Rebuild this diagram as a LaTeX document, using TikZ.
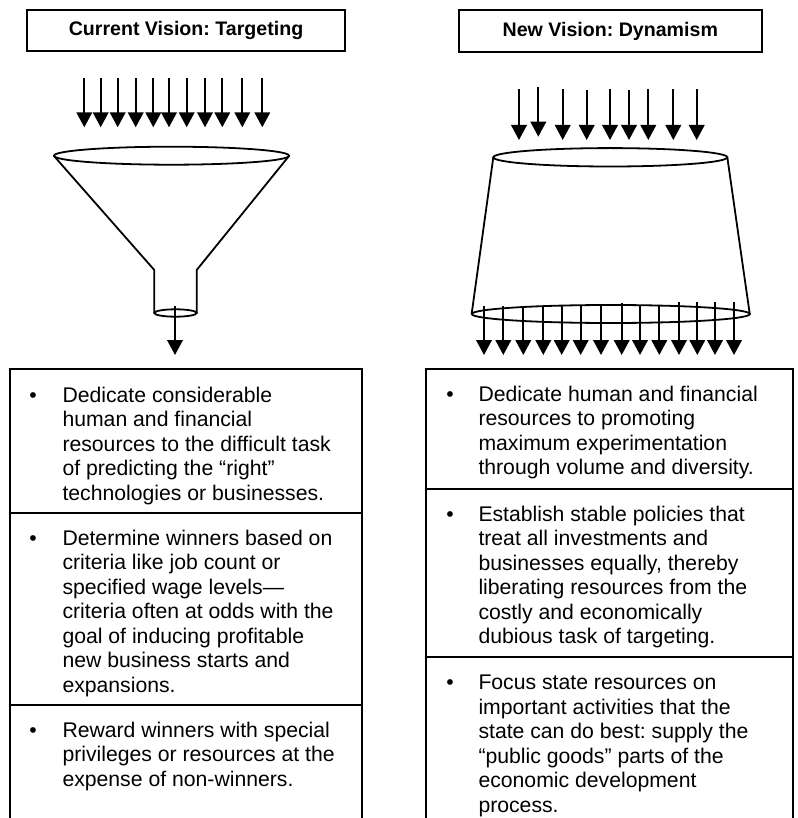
\documentclass[tikz,border=0pt]{standalone}
\usepackage{fontspec}
\setmainfont{Liberation Sans}
\usetikzlibrary{arrows.meta}
\newcommand{\fl}{\rule{0pt}{20pt}}
\frenchspacing
\begin{document}
\begin{tikzpicture}[x=1pt,y=-1pt,
  ln/.style={line width=1.8pt},
  boxline/.style={line width=2pt},
  dnarrow/.style={line width=2.2pt,-{Triangle[width=15.5pt,length=15pt]}},
  headbox/.style={draw,line width=2pt,inner sep=0pt,font=\bfseries\fontsize{19.6}{23}\selectfont},
  btext/.style={anchor=north west,inner sep=0pt,align=left,font=\fontsize{21.2}{24.5}\selectfont},
  bdot/.style={anchor=base,inner sep=0pt,font=\fontsize{21.2}{24.5}\selectfont}]
\useasboundingbox (0,0) rectangle (797,818);

% headers
\node[headbox,minimum width=318pt,minimum height=41pt] (h1) at (186,30.5) {Current Vision: Targeting};
\node[headbox,minimum width=302.7pt,minimum height=42pt] (h2) at (610.3,31) {New Vision: Dynamism};

% left top arrows
\foreach \x in {84.3,100.7,117.7,135.7,153.3,169,186.7,205,222.3,242.3,262.3}
  \draw[dnarrow] (\x,78.3) -- (\x,127.3);

% funnel
\draw[ln] (171.5,155.7) ellipse [x radius=117.5, y radius=9];
\draw[ln] (54,156) -- (154.3,270) -- (154.3,313);
\draw[ln] (289,156) -- (196.7,270) -- (196.7,313);
\draw[ln] (175.5,313) ellipse [x radius=21.2, y radius=3.7];
\coordinate (fo1) at (175,306);
\coordinate (fo2) at (175,355);
\draw[dnarrow] (fo1) -- (fo2);

% right top arrows
\foreach \x/\a/\b in {519/89.5/140,538.3/86.7/136.7,562.7/89.3/140,586.7/90/140,610/89.3/140,629/90/140,648.3/89.3/140,673.3/89.3/140,696.7/89.3/140}
  \draw[dnarrow] (\x,\a) -- (\x,\b);

% cylinder
\draw[ln] (610.3,157.3) ellipse [x radius=117, y radius=9.2];
\draw[ln] (493.3,157.3) -- (471.7,313.5);
\draw[ln] (727.3,157.3) -- (749.8,314.5);
\draw[ln] (610.8,314) ellipse [x radius=139, y radius=9];

% bottom arrows
\foreach \x/\a in {484/306,503.3/306,523.3/307,543.3/306,561.7/305,580.7/306,601/306,621.7/303,640/306,659.3/305,679/302,697.3/302,715/302,734/302}
  \draw[dnarrow] (\x,\a) -- (\x,355);

% left boxes
\draw[boxline] (10,818) -- (10,369.3) -- (361.7,369.3) -- (361.7,818);
\draw[boxline] (10,513.3) -- (361.7,513.3);
\draw[boxline] (10,705) -- (361.7,705);

\node[bdot] (lb1) at (33,402) {\textbullet};
\node[btext] (lt1) at (62.3,382) {\fl Dedicate considerable\\human and financial\\resources to the difficult task\\of predicting the “right”\\technologies or businesses.};
\node[bdot] (lb2) at (33,545) {\textbullet};
\node[btext] (lt2) at (62.3,525) {\fl Determine winners based on\\criteria like job count or\\specified wage levels—\\criteria often at odds with the\\goal of inducing profitable\\new business starts and\\expansions.};
\node[bdot] (lb3) at (33,737) {\textbullet};
\node[btext] (lt3) at (62.3,717) {\fl Reward winners with special\\privileges or resources at the\\expense of non-winners.};

% right boxes
\draw[boxline] (426,818) -- (426,369.3) -- (793,369.3) -- (793,818);
\draw[boxline] (426,489) -- (793,489);
\draw[boxline] (426,656.7) -- (793,656.7);

\node[bdot] (rb1) at (450,401) {\textbullet};
\node[btext] (rt1) at (478.3,381) {\fl Dedicate human and financial\\resources to promoting\\maximum experimentation\\through volume and diversity.};
\node[bdot] (rb2) at (450,521) {\textbullet};
\node[btext] (rt2) at (478.3,501) {\fl Establish stable policies that\\treat all investments and\\businesses equally, thereby\\liberating resources from the\\costly and economically\\dubious task of targeting.};
\node[bdot] (rb3) at (450,689.5) {\textbullet};
\node[btext] (rt3) at (478.3,669.5) {\fl Focus state resources on\\important activities that the\\state can do best: supply the\\“public goods” parts of the\\economic development\\process.};
\end{tikzpicture}
\end{document}
